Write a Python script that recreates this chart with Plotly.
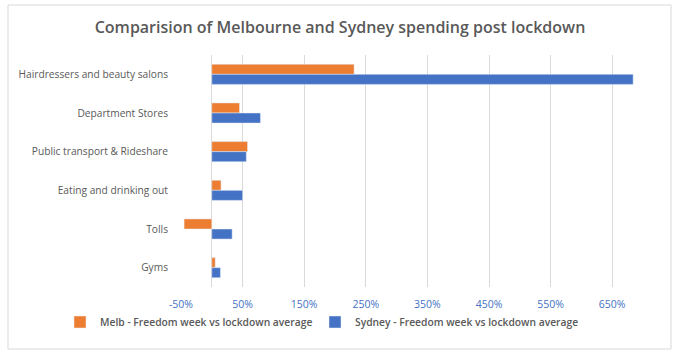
import plotly.graph_objects as go

categories = ["Hairdressers and beauty salons", "Department Stores", "Public transport & Rideshare",
              "Eating and drinking out", "Tolls", "Gyms"]
melb = [231, 45, 58, 15, -45, 5.5]
sydney = [684, 79, 56, 50, 33, 14]
tick_vals = [-50, 50, 150, 250, 350, 450, 550, 650]
tick_text = ["-50%", "50%", "150%", "250%", "350%", "450%", "550%", "650%"]

W, H = 678, 355
L, R, T, B = 181, 643, 55, 287

def px(p):
    return (p - L) / (R - L)

def py(q):
    return (B - q) / (B - T)

fig = go.Figure()
fig.add_trace(go.Bar(y=categories, x=melb, orientation="h", name="Melb - Freedom week vs lockdown average",
                     marker=dict(color="#ED7D31"), legend="legend"))
fig.add_trace(go.Bar(y=categories, x=sydney, orientation="h", name="Sydney - Freedom week vs lockdown average",
                     marker=dict(color="#4472C4"), legend="legend2"))

fig.add_shape(type="rect", xref="paper", yref="paper", x0=px(8), x1=px(671), y0=py(349), y1=py(5),
              line=dict(color="#D9D9D9", width=1), fillcolor="rgba(0,0,0,0)", layer="below")

legfont = dict(family="Open Sans", size=10.3, color="#595959", weight=600)

fig.update_layout(
    width=W, height=H,
    margin=dict(l=L, r=W - R, t=T, b=H - B, pad=0, autoexpand=False),
    paper_bgcolor="white", plot_bgcolor="white",
    barmode="group", bargap=0.48, bargroupgap=0,
    title=dict(text="Comparision of Melbourne and Sydney spending post lockdown",
               x=px(340), xref="paper", xanchor="center", y=1 - 27 / H, yanchor="middle",
               font=dict(family="Open Sans", size=16, color="#595959", weight=600)),
    font=dict(family="Open Sans", color="#595959"),
    xaxis=dict(range=[-50, 700], tickvals=tick_vals, ticktext=tick_text,
               showgrid=True, gridcolor="#D9D9D9", gridwidth=1,
               zeroline=True, zerolinecolor="#D9D9D9", zerolinewidth=1,
               showline=False, ticks="", ticklabelstandoff=9,
               tickfont=dict(family="Open Sans", size=10.5, color="#4472C4")),
    yaxis=dict(autorange="reversed", showgrid=False, showline=False, zeroline=False,
               ticks="", ticklabelstandoff=12,
               tickfont=dict(family="Open Sans", size=10.2, color="#595959")),
    legend=dict(orientation="h", xref="paper", x=px(60), xanchor="left",
                y=py(322), yanchor="middle", font=legfont, itemwidth=30,
                bgcolor="rgba(0,0,0,0)", visible=True),
    legend2=dict(orientation="h", xref="paper", x=px(315), xanchor="left",
                 y=py(322), yanchor="middle", font=legfont, itemwidth=30,
                 bgcolor="rgba(0,0,0,0)", visible=True),
    showlegend=True,
)

fig.write_html("out.html", post_script="document.body.style.margin='0';",
               config={"displayModeBar": False})
